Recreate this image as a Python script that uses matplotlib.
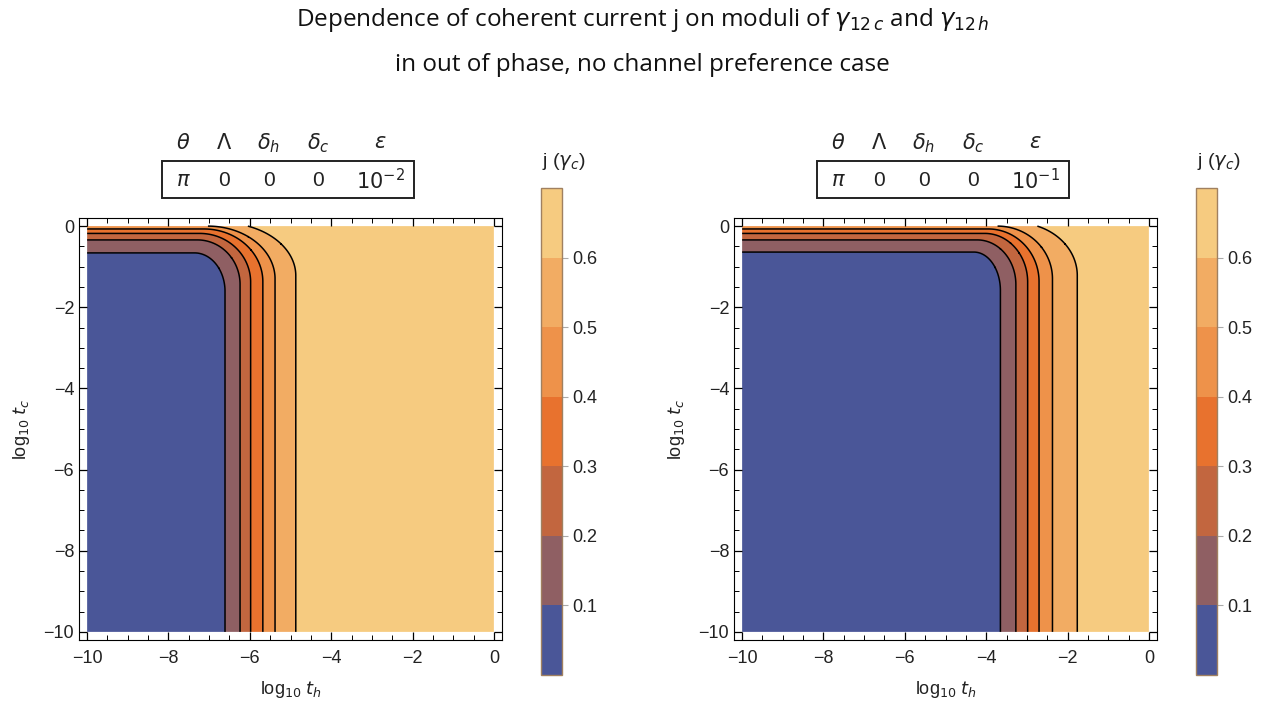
import numpy as np
import matplotlib
matplotlib.use("Agg")
import matplotlib.pyplot as plt
from matplotlib.patches import Rectangle
from matplotlib.ticker import MultipleLocator

# contour levels of j (in units of gamma_c) and band colours
levels = [0.1, 0.2, 0.3, 0.4, 0.5, 0.6]
bounds = [0.0, 0.1, 0.2, 0.3, 0.4, 0.5, 0.6, 0.7]
band_colors = ["#4a5698", "#8f5f63", "#c2663f", "#e8722e",
               "#ee924a", "#f2ac63", "#f6cb80"]

# where each level line sits, eps = 1e-2
left_xline = [-6.61, -6.24, -5.98, -5.68, -5.38, -4.87]   # vertical part, log10 t_h
left_yline = [-0.66, -0.34, -0.18, -0.07, 0.0, 0.08]      # flat part near top, log10 t_c
left_rx = [0.75, 1.05, 1.25, 1.45, 1.65, 1.8]             # corner rounding
left_ry = [0.95, 1.1, 1.2, 1.3, 1.3, 1.3]

# eps = 1e-1
right_xline = [-3.65, -3.27, -2.98, -2.70, -2.37, -1.76]
right_yline = [-0.64, -0.34, -0.18, -0.07, 0.0, 0.08]
right_rx = [0.65, 0.95, 1.05, 1.25, 1.35, 1.5]
right_ry = [0.95, 1.1, 1.2, 1.3, 1.3, 1.3]

header = [r"$\theta$", r"$\Lambda$", r"$\delta_h$", r"$\delta_c$", r"$\epsilon$"]
left_vals = [r"$\pi$", "0", "0", "0", r"$10^{-2}$"]
right_vals = [r"$\pi$", "0", "0", "0", r"$10^{-1}$"]

plt.rcParams["font.family"] = ["Liberation Sans", "DejaVu Sans"]
plt.rcParams["mathtext.fontset"] = "dejavusans"

xg = np.linspace(-10, 0, 1001)
yg = np.concatenate([np.linspace(-10, -2, 161), np.linspace(-2, 0, 801)[1:]])


def build_field(xl, yl, rx, ry, w=0.04):
    X, Y = np.meshgrid(xg, yg)
    J = np.full(X.shape, 0.05)
    prev = np.ones(X.shape)
    for k in range(len(levels)):
        dx = (X - xl[k]) / rx[k] + 1
        dy = (Y - yl[k]) / ry[k] + 1
        f = np.hypot(np.maximum(dx, 0), np.maximum(dy, 0)) + np.minimum(np.maximum(dx, dy), 0) - 1
        h = np.clip(0.5 + f / w, 0, 1)
        h = np.minimum(h, prev)
        prev = h
        J += 0.1 * h
    return X, Y, J


W, H = 1285, 704
fig = plt.figure(figsize=(W / 100, H / 100), dpi=100)


def fx(px):
    return px / W


def fy(py):
    return 1 - py / H


panels = [
    (79, 541, 0, left_xline, left_yline, left_rx, left_ry, left_vals),
    (734, 1196, 655, right_xline, right_yline, right_rx, right_ry, right_vals),
]

for ax_left, cb_left, off, xl, yl, rx, ry, vals in panels:
    ax = fig.add_axes([fx(ax_left), fy(640), 423 / W, 422 / H])
    X, Y, J = build_field(xl, yl, rx, ry)
    cf = ax.contourf(X, Y, J, levels=bounds, colors=band_colors, antialiased=True)
    ax.contour(X, Y, J, levels=levels, colors="k", linewidths=1.1)
    ax.set_xlim(-10.2, 0.2)
    ax.set_ylim(-10.2, 0.2)
    ax.set_xticks(range(-10, 1, 2))
    ax.set_yticks(range(-10, 1, 2))
    ax.xaxis.set_minor_locator(MultipleLocator(0.5))
    ax.yaxis.set_minor_locator(MultipleLocator(0.5))
    ax.tick_params(which="both", direction="in", top=True, right=True,
                   labelsize=13, labelcolor="#222222")
    ax.tick_params(which="major", length=6, width=0.9)
    ax.tick_params(which="minor", length=3.5, width=0.7)
    ax.tick_params(axis="x", pad=7)
    ax.set_xlabel(r"log$_{10}$ $t_h$", fontsize=13, color="#222222", labelpad=9)
    ax.set_ylabel(r"log$_{10}$ $t_c$", fontsize=13, color="#222222", labelpad=8)

    cax = fig.add_axes([fx(cb_left), fy(675), 21 / W, 487 / H])
    cb = fig.colorbar(cf, cax=cax, ticks=levels)
    cb.set_ticklabels([f"{v:.1f}" for v in levels])
    cb.outline.set_edgecolor("#a08060")
    cb.outline.set_linewidth(1.0)
    cax.tick_params(length=4, color="#aaaaaa", labelsize=13, labelcolor="#222222")
    fig.text(fx(cb_left + 1), fy(162), r"j ($\gamma_c$)", fontsize=14,
             ha="left", va="center", color="#222222")

    # parameter table
    cols = [183, 224, 269, 318, 380]
    for cx, hd, v in zip(cols, header, vals):
        fig.text(fx(cx + off), fy(143), hd, fontsize=15, ha="center", va="center", color="#222222")
        fig.text(fx(cx + off), fy(181), v, fontsize=15, ha="center", va="center", color="#222222")
    fig.patches.append(Rectangle((fx(162 + off), fy(198)), 252 / W, 37 / H,
                                 transform=fig.transFigure, fill=False,
                                 edgecolor="#222222", linewidth=1.4))

fig.text(0.5, fy(20), r"Dependence of coherent current j on moduli of $\gamma_{12\,c}$ and $\gamma_{12\,h}$",
         fontsize=17.5, ha="center", va="center", family="Open Sans", color="#111111")
fig.text(0.5, fy(65), "in out of phase, no channel preference case",
         fontsize=17.5, ha="center", va="center", family="Open Sans", color="#111111")

fig.savefig("out.png", dpi=100)
